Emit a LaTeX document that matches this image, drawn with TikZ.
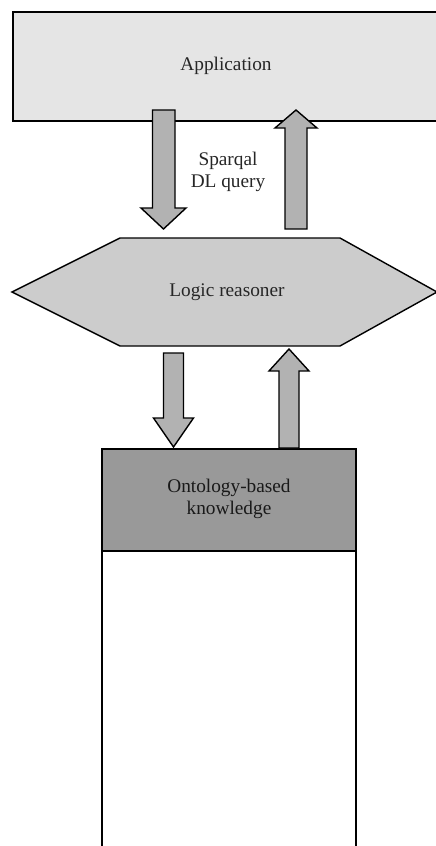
\documentclass[tikz,border=0pt]{standalone}
\usepackage{fontspec}
\setmainfont{Liberation Serif}
\begin{document}
\begin{tikzpicture}[x=1pt,y=-1pt,
  lbl/.style={font=\fontsize{19.3}{21.5}\selectfont, align=center, text=black!85},
  blk/.style={draw=black, line width=1.4pt, line join=miter},
  barrow/.style={draw=black, line width=1.4pt, fill=black!30, line join=miter}]
\useasboundingbox (0,0) rectangle (436,846);
\clip (0,0) rectangle (436,846);
% Application box
\draw[blk, fill=black!10] (13,12) rectangle (440,121);
\node[lbl] (app) at (226,66) {Application};
% Logic reasoner hexagon
\draw[blk, fill=black!20] (120,238) -- (340,238) -- (437,292) -- (340,346) -- (120,346) -- (12,292) -- cycle;
\node[lbl] (reasoner) at (227,292) {Logic reasoner};
% Ontology box
\draw[blk, fill=black!40] (102,449) rectangle (356,551);
\node[lbl, text=black!90] (onto) at (229,499) {Ontology-based\\knowledge};
\draw[blk] (102,551) -- (102,850);
\draw[blk] (356,551) -- (356,850);
% block arrows
\coordinate (d1) at (163.5,229);
\draw[barrow] (152.5,110) -- (175,110) -- (175,208) -- (186,208) -- (d1) -- (141,208) -- (152.5,208) -- cycle;
\coordinate (u1) at (296,110);
\draw[barrow] (285,229) -- (307,229) -- (307,128) -- (317,128) -- (u1) -- (275,128) -- (285,128) -- cycle;
\coordinate (d2) at (173.5,447);
\draw[barrow] (163.5,353) -- (183.5,353) -- (183.5,418) -- (193.5,418) -- (d2) -- (153.5,418) -- (163.5,418) -- cycle;
\coordinate (u2) at (289,349);
\draw[barrow] (279,448) -- (299,448) -- (299,371) -- (309,371) -- (u2) -- (269,371) -- (279,371) -- cycle;
% label
\node[lbl] (query) at (228,172) {Sparqal\\DL query};
\end{tikzpicture}
\end{document}
